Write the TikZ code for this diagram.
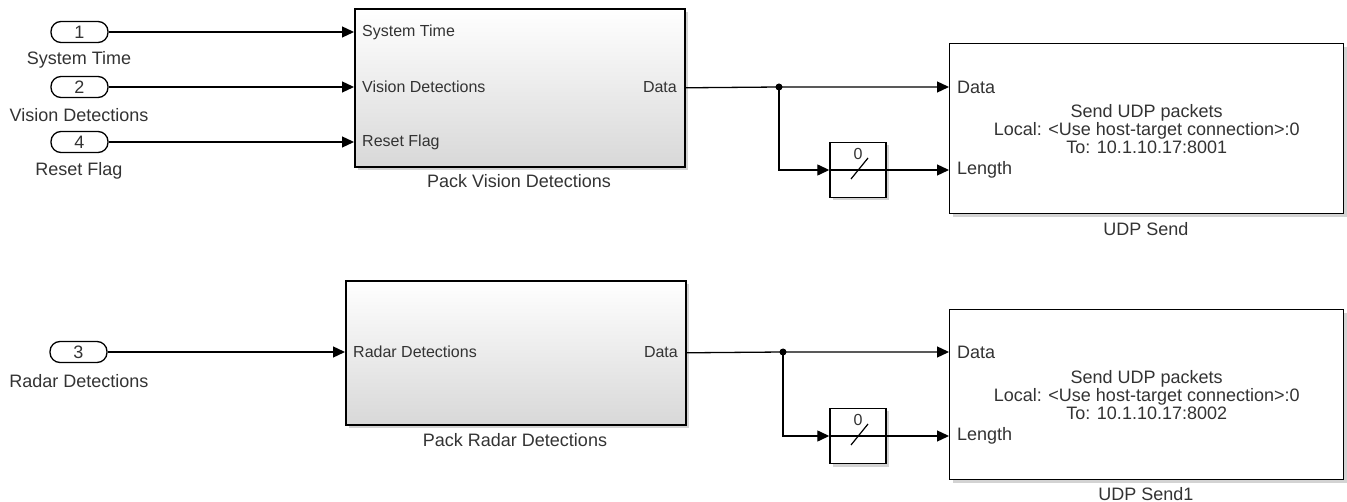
\documentclass[tikz,border=0pt]{standalone}
\usepackage{fontspec}
\setmainfont{Liberation Sans}
\usetikzlibrary{arrows.meta,shadows}
\definecolor{simtext}{HTML}{333333}
\definecolor{simshade}{HTML}{D8D8D8}

\begin{document}
\begin{tikzpicture}[x=1pt, y=-1pt,
  every node/.style={font=\fontsize{18}{18}\selectfont, text=simtext},
  inport/.style={draw, line width=1.3pt, rounded corners=10pt, minimum width=57pt, minimum height=21pt, inner sep=0pt, fill=white},
  subsys/.style={draw, line width=1.6pt, anchor=north west, inner sep=0pt, top color=white, bottom color=simshade, drop shadow={opacity=0.35, shadow xshift=3pt, shadow yshift=-3pt}},
  udpblk/.style={draw, line width=1.4pt, anchor=north west, inner sep=0pt, fill=white, minimum width=394pt, minimum height=170pt, drop shadow={opacity=0.35, shadow xshift=3pt, shadow yshift=-3pt}},
  widthblk/.style={draw, line width=1.4pt, inner sep=0pt, fill=white, minimum width=56pt, minimum height=55pt, drop shadow={opacity=0.35, shadow xshift=3pt, shadow yshift=-3pt}},
  portlbl/.style={inner sep=0pt, font=\fontsize{16}{16}\selectfont},
  blklbl/.style={inner sep=0pt},
  sig/.style={line width=1.3pt, -{Triangle[length=12pt, width=11pt]}},
  wire/.style={line width=1.3pt}
]
  \useasboundingbox (0,0) rectangle (1347,502);

  % inports
  \node[inport] (in1) at (79.5,32)  {1};
  \node[inport] (in2) at (79.5,87)  {2};
  \node[inport] (in4) at (79.5,142) {4};
  \node[inport] (in3) at (78.5,352) {3};
  \node[blklbl] (in1lbl) at (79,60)  {System Time};
  \node[blklbl] (in2lbl) at (79,115) {Vision Detections};
  \node[blklbl] (in4lbl) at (79,171) {Reset Flag};
  \node[blklbl] (in3lbl) at (79,381) {Radar Detections};

  % subsystems
  \node[subsys, minimum width=330pt, minimum height=158pt] (vis) at (354,8) {};
  \node[subsys, minimum width=340pt, minimum height=144pt] (rad) at (345,280) {};
  \node[portlbl, anchor=west] (visp1) at (362,32)  {System Time};
  \node[portlbl, anchor=west] (visp2) at (362,87)  {Vision Detections};
  \node[portlbl, anchor=west] (visp3) at (362,142) {Reset Flag};
  \node[portlbl, anchor=east] (visout) at (677,87) {Data};
  \node[portlbl, anchor=west] (radp1) at (353,352) {Radar Detections};
  \node[portlbl, anchor=east] (radout) at (678,352) {Data};
  \node[blklbl] (vislbl) at (519,181) {Pack Vision Detections};
  \node[blklbl] (radlbl) at (515,440) {Pack Radar Detections};

  % udp send blocks
  \node[udpblk] (udp1) at (949,43)  {};
  \node[udpblk] (udp2) at (949,309) {};
  \node[align=center] (udp1txt) at (udp1.center) {Send UDP packets\\Local: <Use host-target connection>:0\\To: 10.1.10.17:8001};
  \node[align=center] (udp2txt) at (udp2.center) {Send UDP packets\\Local: <Use host-target connection>:0\\To: 10.1.10.17:8002};
  \node[blklbl, anchor=west] (udp1d) at (957,87)  {Data};
  \node[blklbl, anchor=west] (udp1l) at (957,170) {Length};
  \node[blklbl, anchor=west] (udp2d) at (957,352) {Data};
  \node[blklbl, anchor=west] (udp2l) at (957,436) {Length};
  \node[blklbl] (udp1lbl) at (1146,229) {UDP Send};
  \node[blklbl, anchor=south] (udp2lbl) at (1146,501) {UDP Send1};

  % width blocks
  \node[widthblk] (w1) at (858,170) {};
  \node[widthblk] (w2) at (858,436) {};
  \foreach \w in {w1,w2} {
    \draw[wire] (\w.west) -- (\w.east);
    \draw[line width=1.2pt] ([shift={(-7,9)}]\w.center) -- ([shift={(10,-12)}]\w.center);
    \node[inner sep=0pt, font=\fontsize{16}{16}\selectfont] at ([shift={(0,-16)}]\w.center) {0};
  }

  \coordinate (j1) at (779,87);
  \coordinate (j2) at (783,352);

  % signals
  \draw[sig] (in1) -- (in1 -| vis.west);
  \draw[sig] (in2) -- (in2 -| vis.west);
  \draw[sig] (in4) -- (in4 -| vis.west);
  \draw[sig] (in3) -- (in3 -| rad.west);

  \draw[sig] (vis.east) -- (j1) -- (j1 -| udp1.west);
  \draw[sig] (j1) |- (w1.west);
  \draw[sig] (w1.east) -- (w1.east -| udp1.west);
  \fill (j1) circle (3.5);

  \draw[sig] (rad.east) -- (j2) -- (j2 -| udp2.west);
  \draw[sig] (j2) |- (w2.west);
  \draw[sig] (w2.east) -- (w2.east -| udp2.west);
  \fill (j2) circle (3.5);
\end{tikzpicture}
\end{document}
